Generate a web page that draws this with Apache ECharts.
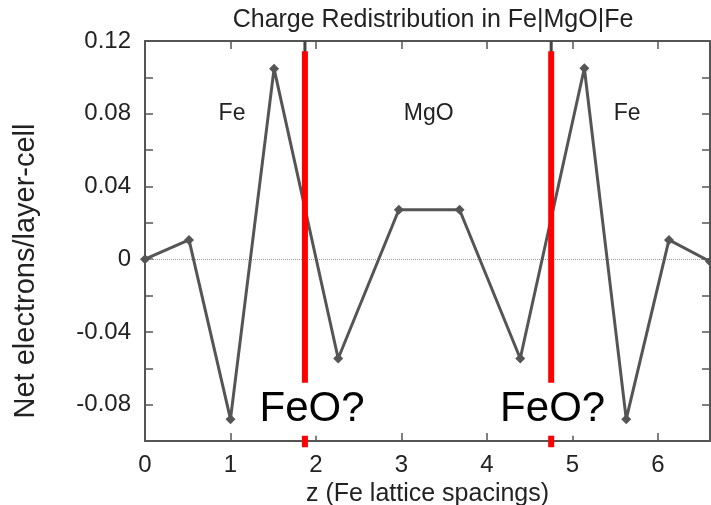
<!DOCTYPE html>
<html><head><meta charset="utf-8">
<script src="https://cdn.jsdelivr.net/npm/echarts@6/dist/echarts.min.js"></script>
<style>html,body{margin:0;padding:0;background:#fff}#c{width:711px;height:505px}</style>
</head><body><div id="c"></div>
<script>
const zPositions = [0, 0.515, 1.0, 1.51, 2.26, 2.97, 3.68, 4.39, 5.14, 5.63, 6.13, 6.61];
const netElectrons = [0, 0.0106, -0.088, 0.1048, -0.0546, 0.0272, 0.0272, -0.0546, 0.105, -0.088, 0.0106, -0.0013];
const interfaceZ = [1.871, 4.752];
const interfaceYRange = [0.1143, -0.1035];
const regionLabels = ['Fe', 'MgO', 'Fe'];
const regionLabelZ = [1.018, 3.32, 5.64];
const regionLabelY = 0.08;
const feoLabels = ['FeO?', 'FeO?'];
const feoLabelZ = [1.954, 4.769];
const feoLabelY = -0.0826;
const xTicks = [0, 1, 2, 3, 4, 5, 6];
const yTickLabels = ['-0.08', '-0.04', '0', '0.04', '0.08', '0.12'];

const FONT = 'Liberation Sans';
const axisCol = '#555';
const chart = echarts.init(document.getElementById('c'));

function fmtY(v) {
  const s = String(Math.round(v * 100) / 100);
  return yTickLabels.includes(s) ? s : '';
}
function fmtX(v) {
  return xTicks.includes(Math.round(v * 1000) / 1000) ? String(Math.round(v)) : '';
}
const xMax = 6.61, yMin = -0.1, yMax = 0.12;
const commonAxisLine = { show: true, onZero: false, lineStyle: { color: axisCol, width: 2 } };
const commonTick = { show: true, inside: true, length: 8, lineStyle: { color: axisCol, width: 1.5 } };

const series = [];
interfaceZ.forEach(z => series.push({
  type: 'line', data: [[z, yMax], [z, yMin]], symbol: 'none', silent: true, z: 1,
  lineStyle: { color: '#444', width: 3 }
}));
series.push({
  type: 'line', data: zPositions.map((z, i) => [z, netElectrons[i]]),
  symbol: 'diamond', symbolSize: 10, z: 3,
  lineStyle: { color: '#555', width: 3 }, itemStyle: { color: '#555' },
  markLine: {
    silent: true, symbol: ['none', 'none'], label: { show: false },
    lineStyle: { color: '#999', type: 'dotted', width: 1 },
    data: [{ yAxis: 0 }], z: 2
  }
});
interfaceZ.forEach(z => series.push({
  type: 'line', data: [[z, interfaceYRange[0]], [z, interfaceYRange[1]]], symbol: 'none',
  silent: true, clip: false, z: 5, lineStyle: { color: '#ff0000', width: 6 }
}));
series.push({
  type: 'scatter', symbolSize: 1, itemStyle: { color: 'rgba(0,0,0,0)', opacity: 1 }, z: 4, silent: true,
  data: regionLabels.map((t, i) => ({ value: [regionLabelZ[i], regionLabelY], name: t })),
  label: { show: true, position: 'inside', formatter: p => p.name, fontFamily: FONT, fontSize: 23, color: '#222' }
});
series.push({
  type: 'scatter', symbolSize: 1, itemStyle: { color: 'rgba(0,0,0,0)', opacity: 1 }, z: 10, silent: true,
  data: feoLabels.map((t, i) => ({ value: [feoLabelZ[i], feoLabelY], name: t })),
  label: { show: true, position: 'inside', formatter: p => p.name, fontFamily: FONT, fontSize: 42,
    color: '#000', backgroundColor: '#fff', lineHeight: 45, padding: [4, 0] }
});

chart.setOption({
  animation: false,
  backgroundColor: '#fff',
  title: {
    text: 'Charge Redistribution in Fe|MgO|Fe', left: 428, top: 3, textAlign: 'center',
    textStyle: { fontFamily: FONT, fontSize: 25, fontWeight: 'normal', color: '#222' }
  },
  grid: { left: 145, right: 1, top: 41, bottom: 64, containLabel: false, outerBoundsMode: 'none' },
  xAxis: [{
    type: 'value', min: 0, max: xMax, interval: 1, position: 'bottom',
    axisLine: commonAxisLine, axisTick: commonTick, splitLine: { show: false },
    axisLabel: { formatter: fmtX, margin: 12, fontFamily: FONT, fontSize: 24, color: '#222' },
    name: 'z (Fe lattice spacings)', nameLocation: 'middle', nameGap: 36,
    nameTextStyle: { fontFamily: FONT, fontSize: 25, color: '#222' }
  }, {
    type: 'value', min: 0, max: xMax, interval: 1, position: 'top',
    axisLine: commonAxisLine, axisTick: commonTick, splitLine: { show: false }, axisLabel: { show: false }
  }],
  yAxis: [{
    type: 'value', min: yMin, max: yMax, interval: 0.02, position: 'left',
    axisLine: commonAxisLine, axisTick: commonTick, splitLine: { show: false },
    axisLabel: { formatter: fmtY, margin: 14, fontFamily: FONT, fontSize: 24, color: '#222' },
    name: 'Net electrons/layer-cell', nameLocation: 'middle', nameGap: 105, nameRotate: 90,
    nameTextStyle: { fontFamily: FONT, fontSize: 29, color: '#222', padding: [0, 60, 0, 0] }
  }, {
    type: 'value', min: yMin, max: yMax, interval: 0.02, position: 'right',
    axisLine: commonAxisLine, axisTick: commonTick, splitLine: { show: false }, axisLabel: { show: false }
  }],
  series: series
});
</script></body></html>
